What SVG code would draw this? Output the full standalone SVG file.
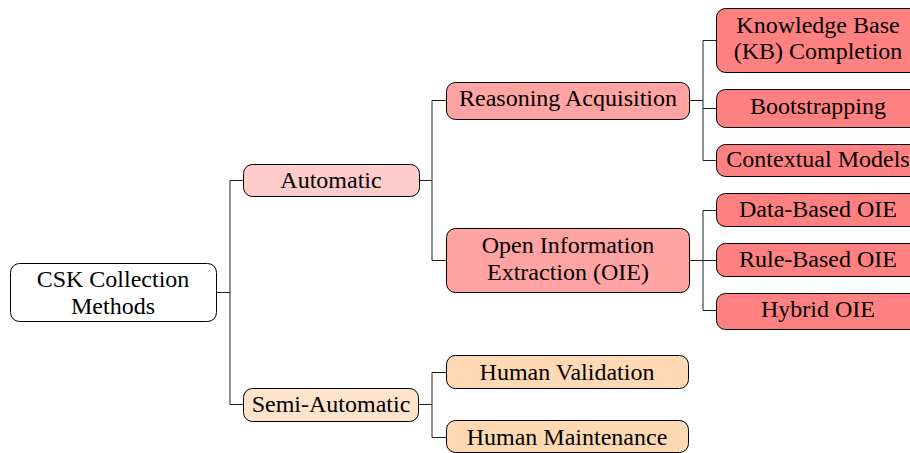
<svg xmlns="http://www.w3.org/2000/svg" width="910" height="453" viewBox="0 0 910 453">
  <style>
    .box { stroke: #000; stroke-width: 1; }
    .root { fill: #ffffff; }
    .auto { fill: #ffcccc; }
    .mid { fill: #ffa3a3; }
    .leaf { fill: #ff8080; }
    .semi { fill: #ffe4cc; }
    .human { fill: #ffd9b3; }
    text { font-family: 'Liberation Serif', 'DejaVu Serif', serif; font-size: 24px; fill: #000; text-anchor: middle; }
    .wire { fill: none; stroke: #222; stroke-width: 1; }
  </style>
  <rect width="910" height="453" fill="#ffffff"/>

  <g id="connectors">
    <!-- root to first level -->
    <path class="wire" d="M216 292.5 H230 M230 180.5 V404.5 M230 180.5 H243.5 M230 404.5 H243.5"/>
    <!-- Automatic to its branches -->
    <path class="wire" d="M419.5 180.5 H432 M432 100.5 V260.5 M432 100.5 H446.5 M432 260.5 H446.5"/>
    <!-- Reasoning Acquisition to leaves -->
    <path class="wire" d="M689.5 100.5 H703 M703 40.5 V160.5 M703 40.5 H716.5 M703 108.5 H716.5 M703 160.5 H716.5"/>
    <!-- OIE to leaves -->
    <path class="wire" d="M689.5 260.5 H703 M703 210.5 V310.5 M703 210.5 H716.5 M703 260.5 H716.5 M703 310.5 H716.5"/>
    <!-- Semi-Automatic to its branches -->
    <path class="wire" d="M418.5 404.5 H432 M432 372.5 V437.5 M432 372.5 H446.5 M432 437.5 H446.5"/>
  </g>

  <g font-family="Liberation Serif, DejaVu Serif, serif">
  <g id="csk-collection-methods">
    <rect class="box root" x="10.5" y="263.5" width="206" height="58" rx="9"/>
    <text x="113" y="287">CSK Collection</text>
    <text x="113" y="314">Methods</text>
  </g>

  <g id="automatic">
    <rect class="box auto" x="243.5" y="164.5" width="176" height="32" rx="9"/>
    <text x="331" y="187.5">Automatic</text>
  </g>

  <g id="semi-automatic">
    <rect class="box semi" x="243.5" y="388.5" width="175" height="33" rx="9"/>
    <text x="331" y="411.5">Semi-Automatic</text>
  </g>

  <g id="reasoning-acquisition">
    <rect class="box mid" x="446.5" y="82.5" width="243" height="37" rx="9"/>
    <text x="568" y="105.5">Reasoning Acquisition</text>
  </g>

  <g id="open-information-extraction">
    <rect class="box mid" x="446.5" y="228.5" width="243" height="64" rx="9"/>
    <text x="568" y="253">Open Information</text>
    <text x="568" y="280">Extraction (OIE)</text>
  </g>

  <g id="human-validation">
    <rect class="box human" x="446.5" y="355.5" width="242" height="33" rx="9"/>
    <text x="567" y="380">Human Validation</text>
  </g>

  <g id="human-maintenance">
    <rect class="box human" x="446.5" y="420.5" width="242" height="32" rx="9"/>
    <text x="567" y="445">Human Maintenance</text>
  </g>

  <g id="kb-completion">
    <rect class="box leaf" x="716.5" y="8.5" width="204" height="64" rx="9"/>
    <text x="818" y="33">Knowledge Base</text>
    <text x="818" y="59">(KB) Completion</text>
  </g>

  <g id="bootstrapping">
    <rect class="box leaf" x="716.5" y="89.5" width="204" height="38" rx="9"/>
    <text x="818" y="114">Bootstrapping</text>
  </g>

  <g id="contextual-models">
    <rect class="box leaf" x="716.5" y="144.5" width="204" height="32" rx="9"/>
    <text x="818" y="166.5">Contextual Models</text>
  </g>

  <g id="data-based-oie">
    <rect class="box leaf" x="716.5" y="193.5" width="204" height="33" rx="9"/>
    <text x="818" y="217">Data-Based OIE</text>
  </g>

  <g id="rule-based-oie">
    <rect class="box leaf" x="716.5" y="243.5" width="204" height="33" rx="9"/>
    <text x="818" y="266.5">Rule-Based OIE</text>
  </g>

  <g id="hybrid-oie">
    <rect class="box leaf" x="716.5" y="293.5" width="204" height="36" rx="9"/>
    <text x="818" y="316.5">Hybrid OIE</text>
  </g>
  </g>
</svg>
